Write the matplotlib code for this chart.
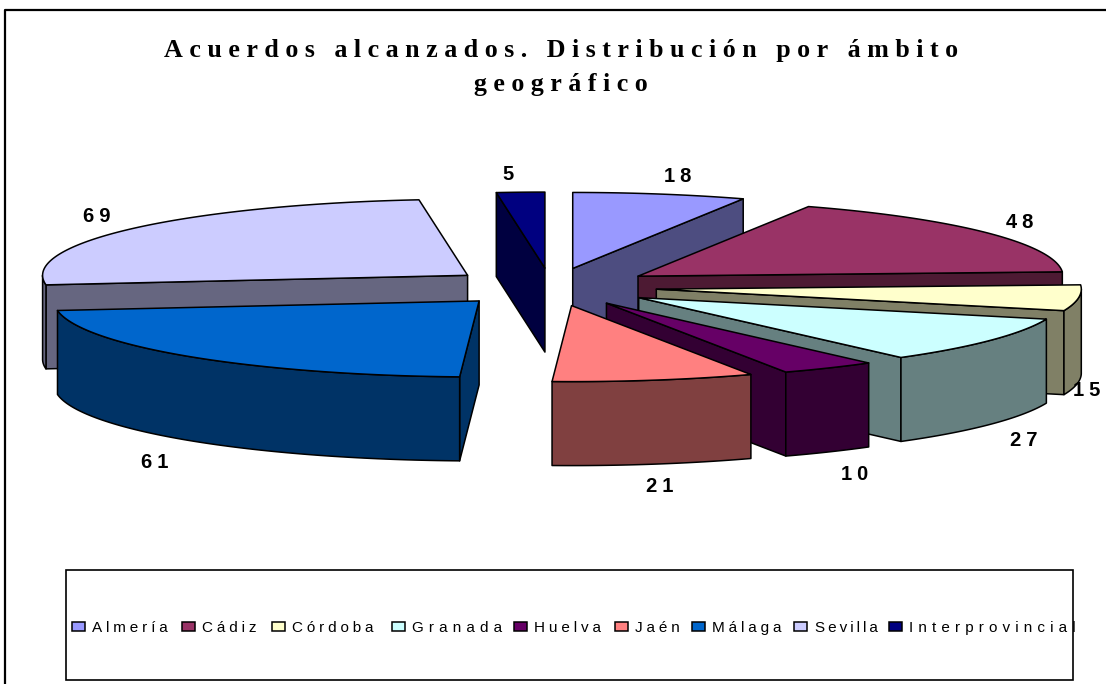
import numpy as np
import matplotlib
matplotlib.use("Agg")
import matplotlib.pyplot as plt
from matplotlib.patches import Polygon, Rectangle

title_lines = ["Acuerdos alcanzados. Distribución por ámbito", "geográfico"]
categories = ["Almería", "Cádiz", "Córdoba", "Granada", "Huelva", "Jaén", "Málaga", "Sevilla", "Interprovincial"]
values = [18, 48, 15, 27, 10, 21, 61, 69, 5]
top_colors = ["#9999FF", "#993366", "#FFFFCC", "#CCFFFF", "#660066", "#FF8080", "#0066CC", "#CCCCFF", "#000080"]
side_colors = ["#4D4D80", "#4D1A33", "#808066", "#668080", "#330033", "#804040", "#003366", "#666680", "#000040"]

label_xy = [(678, 177), (1020, 222), (1087, 391), (1024, 440), (855, 475), (660, 487), (155, 463), (97, 217), (508, 175)]
legend_swatch_x = [72, 182, 272, 392, 514, 615, 692, 794, 889]
legend_text_x = [92, 202, 292, 412, 534, 635, 712, 815, 909]
legend_seps = ["\u2005", "\u2005", "\u2005", "\u2004", "\u2005", "\u2005", "\u2005", "\u2009", "\u2004"]

CX, CY = 551, 287      # pie centre in pixels
RX, RY = 425, 76       # projected radii
EXPLODE = 106          # radial offset
DEPTH = 84             # extrusion
LW = 1.1


def spaced(s, sep="\u2009"):
    return sep.join(s)


fig = plt.figure(figsize=(11.06, 6.84), dpi=100)
ax = fig.add_axes([0, 0, 1, 1])
ax.set_xlim(0, 1106)
ax.set_ylim(684, 0)
ax.axis("off")

# chart frame: left and top edges only are inside the picture
ax.plot([5, 5, 1106], [684, 10, 10], color="black", lw=1.6, clip_on=False, zorder=1)

# wedge geometry from the values
vals = np.array(values, dtype=float)
edges = np.concatenate([[0], np.cumsum(vals)]) / vals.sum() * 2 * np.pi
wedges = []
for i in range(len(vals)):
    a1, a2 = edges[i], edges[i + 1]
    mid = (a1 + a2) / 2
    ax0 = CX + EXPLODE * np.sin(mid)
    ay0 = CY - EXPLODE * (RY / RX) * np.cos(mid)
    wedges.append((-np.cos(mid), i, a1, a2, ax0, ay0))
wedges.sort()


def rim(ax0, ay0, t):
    return ax0 + RX * np.sin(t), ay0 - RY * np.cos(t)


z = 5
for _, i, a1, a2, x0, y0 in wedges:
    style = dict(edgecolor="black", linewidth=LW, joinstyle="round")
    faces = []
    if np.sin(a2) > 1e-6:
        faces.append(a2)
    if np.sin(a1) < -1e-6:
        faces.append(a1)
    for a in faces:
        px, py = rim(x0, y0, a)
        ax.add_patch(Polygon([(x0, y0), (px, py), (px, py + DEPTH), (x0, y0 + DEPTH)],
                             closed=True, facecolor=side_colors[i], zorder=z, **style))
        z += 1
    lo, hi = max(a1, np.pi / 2), min(a2, 3 * np.pi / 2)
    if hi > lo:
        t = np.linspace(lo, hi, 80)
        rx, ry = rim(x0, y0, t)
        pts = np.r_[np.c_[rx, ry], np.c_[rx, ry + DEPTH][::-1]]
        ax.add_patch(Polygon(pts, closed=True, facecolor=side_colors[i], zorder=z, **style))
        z += 1
    t = np.linspace(a1, a2, 120)
    rx, ry = rim(x0, y0, t)
    pts = np.r_[[(x0, y0)], np.c_[rx, ry]]
    ax.add_patch(Polygon(pts, closed=True, facecolor=top_colors[i], zorder=z, **style))
    z += 1

# value labels
for v, (lx, ly) in zip(values, label_xy):
    ax.text(lx, ly, spaced(str(v), "\u2005"), family="Liberation Sans", fontweight="bold", fontsize=14.5,
            ha="center", va="center", color="black", zorder=100)

# title
for line, y in zip(title_lines, [50, 85]):
    ax.text(561, y, spaced(line, "\u2005"), family="Liberation Serif", fontweight="bold", fontsize=18.7,
            ha="center", va="center", color="black", zorder=100)

# legend
ax.add_patch(Rectangle((66, 570), 1007, 110, facecolor="white", edgecolor="black", linewidth=1.2, zorder=50))
for name, sx, tx, col, sep in zip(categories, legend_swatch_x, legend_text_x, top_colors, legend_seps):
    ax.add_patch(Rectangle((sx, 622), 13, 9, facecolor=col, edgecolor="black", linewidth=1.1, zorder=51))
    ax.text(tx, 628, spaced(name, sep), family="Liberation Sans", fontsize=11,
            ha="left", va="center", color="black", zorder=52)

fig.savefig("out.png", dpi=100)
